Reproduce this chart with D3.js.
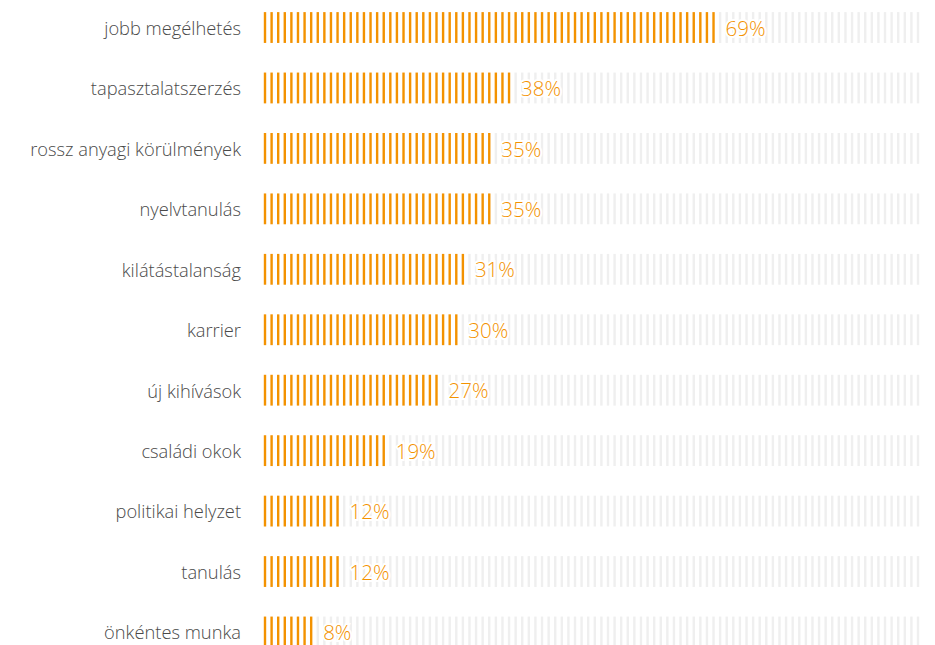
<!DOCTYPE html>
<html><head><meta charset="utf-8">
<script src="https://cdn.jsdelivr.net/npm/d3@7"></script>
<style>body{margin:0;background:#fff}</style>
</head><body>
<svg id="c" width="935" height="645"></svg>
<script>
const categories = ["jobb megélhetés","tapasztalatszerzés","rossz anyagi körülmények","nyelvtanulás","kilátástalanság","karrier","új kihívások","családi okok","politikai helyzet","tanulás","önkéntes munka"];
const values = [69,38,35,35,31,30,27,19,12,12,8];
const totalTicks = 100;

const svg = d3.select("#c");
const y = d3.scaleBand().domain(categories).range([-2.7, 662.2]).paddingInner(0.49).paddingOuter(0.245);
const x = d3.scaleLinear().domain([0, totalTicks - 1]).range([265, 918]);
const tickIdx = d3.range(totalTicks);

const rows = svg.selectAll("g.row").data(categories).join("g").attr("class","row")
  .attr("transform", d => `translate(0,${y(d)})`);

rows.each(function(cat, i){
  const g = d3.select(this);
  const v = values[i];
  g.selectAll("rect.t").data(tickIdx).join("rect").attr("class","t")
    .attr("x", d => x(d) - 1.2).attr("y", 0).attr("width", 2.4).attr("height", y.bandwidth())
    .attr("fill", d => d < v ? "#f39200" : "#efefef");
  g.append("text")
    .attr("x", x(v - 1) + 12).attr("y", y.bandwidth()/2 + 1).attr("dy","0.35em")
    .attr("font-family","Open Sans, sans-serif").attr("font-size",20.5).attr("font-weight",300)
    .attr("fill","#f39200")
    .attr("stroke","#fff").attr("stroke-width",4).attr("paint-order","stroke")
    .text(v + "%");
  g.append("text")
    .attr("x", 241).attr("y", y.bandwidth()/2 + 1).attr("dy","0.35em")
    .attr("text-anchor","end")
    .attr("font-family","Open Sans, sans-serif").attr("font-size",18.3).attr("font-weight",300)
    .attr("fill","#4a4a4a")
    .text(cat);
});
</script>
</body></html>
